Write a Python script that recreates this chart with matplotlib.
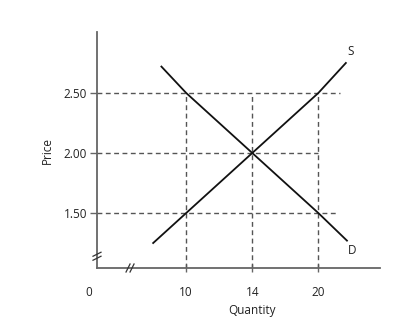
import matplotlib
matplotlib.use("Agg")
import matplotlib.pyplot as plt
import numpy as np
from matplotlib.lines import Line2D
from matplotlib.transforms import IdentityTransform

plt.rcParams['font.family'] = ['Open Sans', 'DejaVu Sans']

# data
qty_ticks = [10, 14, 20]
price_ticks = [1.50, 2.00, 2.50]
price_labels = ['1.50', '2.00', '2.50']

supply_q = [8.0, 10, 14, 20, 22.5]
supply_p = [1.25, 1.50, 2.00, 2.50, 2.75]
demand_q = [8.5, 10, 14, 20, 22.6]
demand_p = [2.72, 2.50, 2.00, 1.50, 1.27]

# how far each horizontal guide runs (quantity)
hguide_end = [21.6, 20, 22.0]


# schematic (broken) quantity axis: 10, 14, 20 sit evenly spaced
def fwd(x):
    x = np.asarray(x, dtype=float)
    return np.where(x < 14, 1 + (x - 10) / 4.0, 2 + (x - 14) / 6.0)


def inv(u):
    u = np.asarray(u, dtype=float)
    return np.where(u < 2, 10 + (u - 1) * 4.0, 14 + (u - 2) * 6.0)


fig = plt.figure(figsize=(4.09, 3.29), dpi=100)
ax = fig.add_axes([97 / 409, 61 / 329, 283 / 409, 236 / 329])
ax.set_xscale('function', functions=(fwd, inv))
ax.set_xlim(4.6, 25.6)
ax.set_ylim(1.042, 3.008)

axcol = '#666666'
dcol = '#555555'
tcol = '#222222'
for s in ['top', 'right']:
    ax.spines[s].set_visible(False)
for s in ['left', 'bottom']:
    ax.spines[s].set_color(axcol)
    ax.spines[s].set_linewidth(1.3)

# guides
for p, qe in zip(price_ticks, hguide_end):
    ax.plot([4.6, qe], [p, p], color=dcol, lw=1, ls=(0, (3.5, 2.5)))
for q in qty_ticks:
    ax.plot([q, q], [1.042, 2.5], color=dcol, lw=1, ls=(0, (3.5, 2.5)))

ax.plot(supply_q, supply_p, color='#111111', lw=1.3)
ax.plot(demand_q, demand_p, color='#111111', lw=1.3)
ax.text(supply_q[-1] + 0.4, supply_p[-1] + 0.04, 'S', fontsize=8.5, color=tcol,
        ha='center', va='bottom')
ax.text(demand_q[-1] + 0.5, demand_p[-1] - 0.03, 'D', fontsize=8.5, color=tcol,
        ha='center', va='top')

ax.set_xticks(qty_ticks)
ax.set_xticklabels([str(q) for q in qty_ticks])
ax.xaxis.set_minor_locator(matplotlib.ticker.NullLocator())
ax.set_yticks(price_ticks)
ax.set_yticklabels(price_labels)
ax.tick_params(axis='x', direction='inout', length=6, width=1, color=axcol,
               labelsize=8.5, labelcolor=tcol, pad=10)
ax.tick_params(axis='y', direction='out', length=5, width=1, color=axcol,
               labelsize=8.5, labelcolor=tcol, pad=2)

ax.set_ylabel('Price', fontsize=8.5, color=tcol, labelpad=7)
ax.text(14, -0.178, 'Quantity', transform=ax.get_xaxis_transform(), fontsize=8.5,
        color=tcol, ha='center', va='center')
ax.text(-0.03, -0.105, '0', transform=ax.transAxes, fontsize=8.5, color=tcol,
        ha='center', va='center')

# axis break marks
def brk(xd, yd, horizontal):
    cx, cy = ax.transData.transform((xd, yd))
    for off in (-2, 2):
        if horizontal:
            xs = [cx + off - 2, cx + off + 2]
            ys = [cy - 4, cy + 4]
        else:
            xs = [cx - 4, cx + 4]
            ys = [cy + off - 2, cy + off + 2]
        fig.add_artist(Line2D(xs, ys, transform=IdentityTransform(),
                              color='#333333', lw=0.9))

brk(4.6, 1.14, False)
brk(6.6, 1.042, True)

fig.savefig('out.png', dpi=100)
